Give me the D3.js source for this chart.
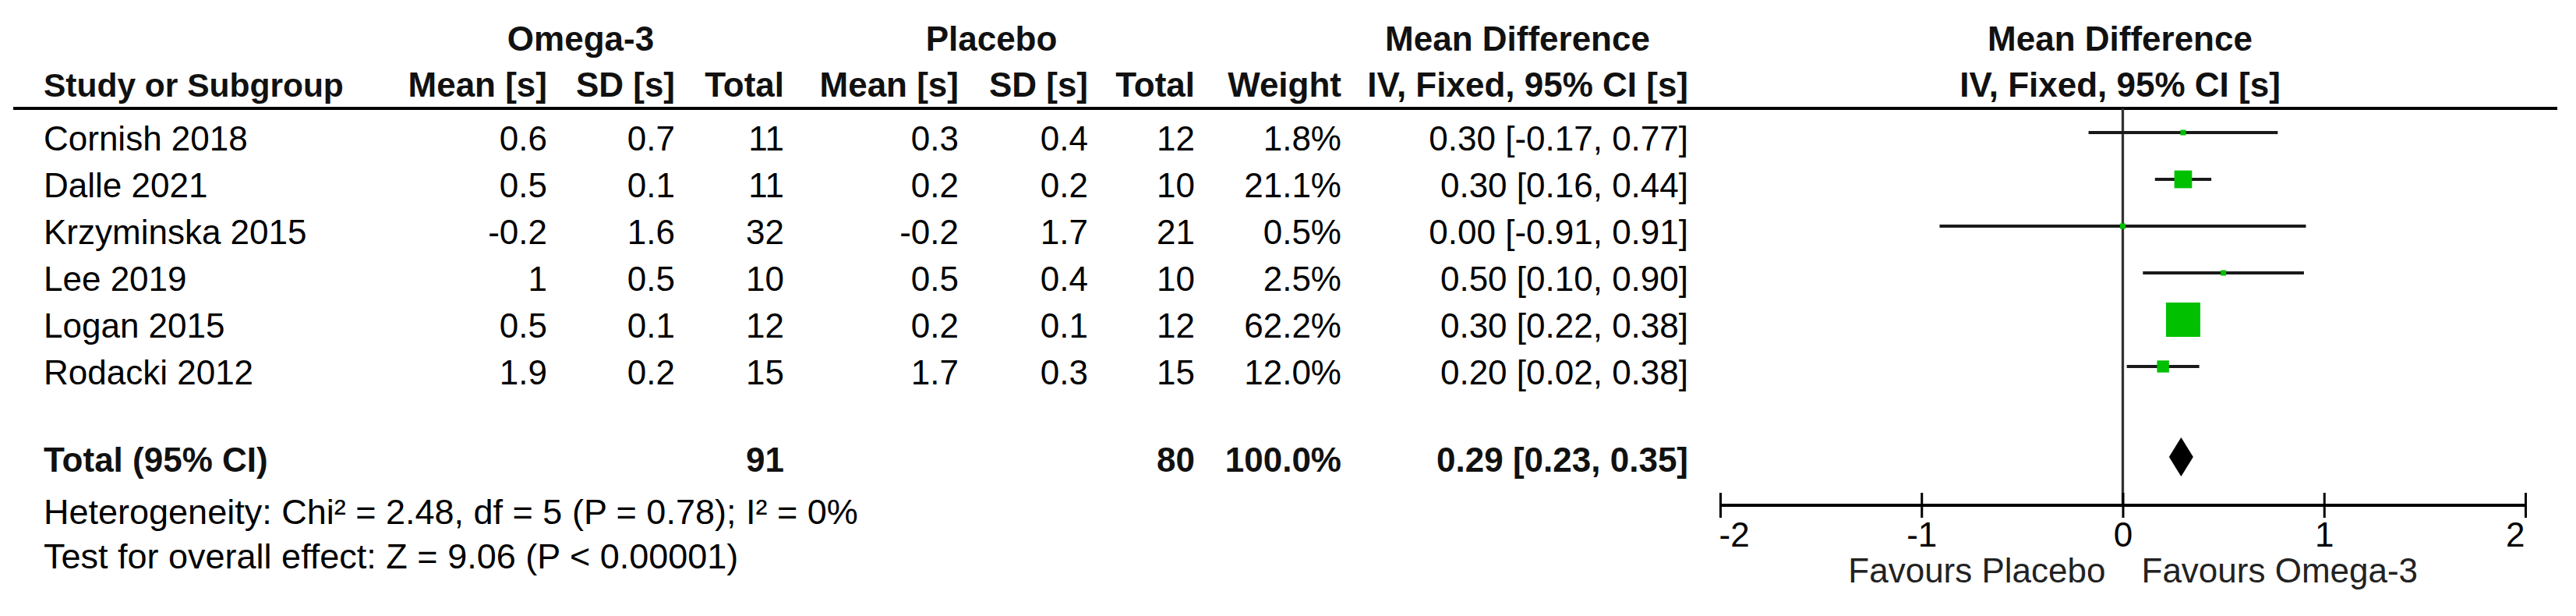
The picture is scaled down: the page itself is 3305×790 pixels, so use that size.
<!DOCTYPE html>
<html>
<head>
<meta charset="utf-8">
<script src="https://cdn.jsdelivr.net/npm/d3@7"></script>
<style>
  html, body { margin: 0; padding: 0; background: #fff; }
  svg text { font-family: "Liberation Sans", Arial, sans-serif; }
</style>
</head>
<body>
<svg id="chart" width="3305" height="790"></svg>
<script>
// ---------- data ----------
const studies      = ["Cornish 2018", "Dalle 2021", "Krzyminska 2015", "Lee 2019", "Logan 2015", "Rodacki 2012"];
const omegaMean    = ["0.6", "0.5", "-0.2", "1", "0.5", "1.9"];
const omegaSD      = ["0.7", "0.1", "1.6", "0.5", "0.1", "0.2"];
const omegaN       = [11, 11, 32, 10, 12, 15];
const placeboMean  = ["0.3", "0.2", "-0.2", "0.5", "0.2", "1.7"];
const placeboSD    = ["0.4", "0.2", "1.7", "0.4", "0.1", "0.3"];
const placeboN     = [12, 10, 21, 10, 12, 15];
const weights      = [1.8, 21.1, 0.5, 2.5, 62.2, 12.0];
const meanDiff     = [0.30, 0.30, 0.00, 0.50, 0.30, 0.20];
const ciLow        = [-0.17, 0.16, -0.91, 0.10, 0.22, 0.02];
const ciHigh       = [0.77, 0.44, 0.91, 0.90, 0.38, 0.38];
const totalLabel   = "Total (95% CI)";
const totalOmegaN  = 91;
const totalPlaceboN = 80;
const totalWeight  = 100.0;
const totalMD      = [0.29, 0.23, 0.35]; // estimate, low, high
const axisTicks    = [-2, -1, 0, 1, 2];
const heterogeneityText = "Heterogeneity: Chi\u00B2 = 2.48, df = 5 (P = 0.78); I\u00B2 = 0%";
const overallText  = "Test for overall effect: Z = 9.06 (P < 0.00001)";
const favoursLeft  = "Favours Placebo";
const favoursRight = "Favours Omega-3";

// ---------- layout ----------
const svg = d3.select("#chart");
const FS = 44;
const green = "#00C000";

const yRow = d3.scalePoint().domain(studies).range([193, 493]);
const yTotal = 605;
const x = d3.scaleLinear().domain([-2, 2]).range([2207, 3240]);
const boxSize = d3.scaleSqrt().domain([12.0, 62.2]).range([15.4, 44]);

const cols = [
  { key: "om",  right: 702,  vals: omegaMean },
  { key: "osd", right: 866,  vals: omegaSD },
  { key: "on",  right: 1006, vals: omegaN },
  { key: "pm",  right: 1230, vals: placeboMean },
  { key: "psd", right: 1396, vals: placeboSD },
  { key: "pn",  right: 1533, vals: placeboN },
  { key: "w",   right: 1721, vals: weights.map(w => w.toFixed(1) + "%") },
  { key: "ci",  right: 2166, vals: meanDiff.map((m, i) => m.toFixed(2) + " [" + ciLow[i].toFixed(2) + ", " + ciHigh[i].toFixed(2) + "]") }
];
const colHeaders = ["Mean [s]", "SD [s]", "Total", "Mean [s]", "SD [s]", "Total", "Weight", "IV, Fixed, 95% CI [s]"];

function txt(g, s, xx, yy, anchor, bold, fill, size) {
  return g.append("text").attr("x", xx).attr("y", yy)
    .attr("text-anchor", anchor || "start")
    .attr("font-size", size || FS)
    .attr("font-weight", bold ? "bold" : "normal")
    .attr("fill", fill || "#000")
    .text(s);
}

const head = svg.append("g");
// group headers
txt(head, "Omega-3", 745, 65, "middle", true, "#111");
txt(head, "Placebo", 1272, 65, "middle", true, "#111");
txt(head, "Mean Difference", 1947, 65, "middle", true, "#111");
txt(head, "Mean Difference", 2720, 65, "middle", true, "#111");
// column headers
txt(head, "Study or Subgroup", 56, 124, "start", true, "#111", 42.5);
cols.forEach((c, i) => txt(head, colHeaders[i], c.right, 124, "end", true, "#111"));
txt(head, "IV, Fixed, 95% CI [s]", 2720, 124, "middle", true, "#111");

// header rule
svg.append("line").attr("x1", 17).attr("x2", 3281).attr("y1", 139).attr("y2", 139)
  .attr("stroke", "#000").attr("stroke-width", 4);

// study rows
const body = svg.append("g");
studies.forEach((s, i) => {
  const yy = yRow(s);
  txt(body, s, 56, yy, "start", false);
  cols.forEach(c => txt(body, String(c.vals[i]), c.right, yy, "end", false));
});

// total row
const tot = svg.append("g");
txt(tot, totalLabel, 56, yTotal, "start", true, "#111");
txt(tot, String(totalOmegaN), 1006, yTotal, "end", true, "#111");
txt(tot, String(totalPlaceboN), 1533, yTotal, "end", true, "#111");
txt(tot, totalWeight.toFixed(1) + "%", 1721, yTotal, "end", true, "#111");
txt(tot, totalMD[0].toFixed(2) + " [" + totalMD[1].toFixed(2) + ", " + totalMD[2].toFixed(2) + "]", 2166, yTotal, "end", true, "#111");

// footnotes
txt(svg, heterogeneityText, 56, 672, "start", false, "#000", 45);
txt(svg, overallText, 56, 729, "start", false, "#000", 45);

// ---------- forest plot ----------
const plot = svg.append("g");
const axisY = 648;

// zero line
plot.append("line").attr("x1", x(0)).attr("x2", x(0)).attr("y1", 139).attr("y2", axisY)
  .attr("stroke", "#333").attr("stroke-width", 3.3);

// CI lines
plot.selectAll("line.ci").data(studies).enter().append("line")
  .attr("class", "ci")
  .attr("x1", (d, i) => x(ciLow[i])).attr("x2", (d, i) => x(ciHigh[i]))
  .attr("y1", d => yRow(d) - 23).attr("y2", d => yRow(d) - 23)
  .attr("stroke", "#1a1a1a").attr("stroke-width", 3.8);

// weight boxes
plot.selectAll("rect.box").data(studies).enter().append("rect")
  .attr("class", "box")
  .each(function (d, i) {
    const s = Math.max(7, boxSize(weights[i]));
    d3.select(this)
      .attr("x", x(meanDiff[i]) - s / 2)
      .attr("y", yRow(d) - 23 - s / 2)
      .attr("width", s).attr("height", s);
  })
  .attr("fill", green);

// diamond
const dy = 586, dh = 25;
plot.append("path")
  .attr("d", d3.line()([
    [x(totalMD[1]), dy], [x(totalMD[0]), dy - dh], [x(totalMD[2]), dy], [x(totalMD[0]), dy + dh]
  ]) + "Z")
  .attr("fill", "#000");

// axis
const axis = d3.axisBottom(x).tickValues(axisTicks).tickSize(16).tickPadding(0)
  .tickFormat(d3.format("d"));
const ag = plot.append("g").attr("transform", `translate(0,${axisY})`).call(axis);
ag.select(".domain").attr("stroke", "#000").attr("stroke-width", 4)
  .attr("d", `M${x(-2)},0H${x(2)}`);
ag.selectAll(".tick line").attr("y1", -16).attr("y2", 16)
  .attr("stroke", "#000").attr("stroke-width", 3);
ag.selectAll(".tick text")
  .attr("font-size", FS).attr("fill", "#000")
  .attr("font-family", "Liberation Sans, Arial, sans-serif")
  .attr("dy", null).attr("y", 53)
  .text(d => d < 0 ? "-" + Math.abs(d) : String(d))
  .attr("text-anchor", (d, i) => i === 0 ? "start" : (i === axisTicks.length - 1 ? "end" : "middle"))
  .attr("x", (d, i) => i === 0 ? -2 : (i === axisTicks.length - 1 ? -1 : 0));

txt(plot, favoursLeft, x(0) - 22, 747, "end", false, "#222");
txt(plot, favoursRight, x(0) + 24, 747, "start", false, "#222");
</script>
</body>
</html>
